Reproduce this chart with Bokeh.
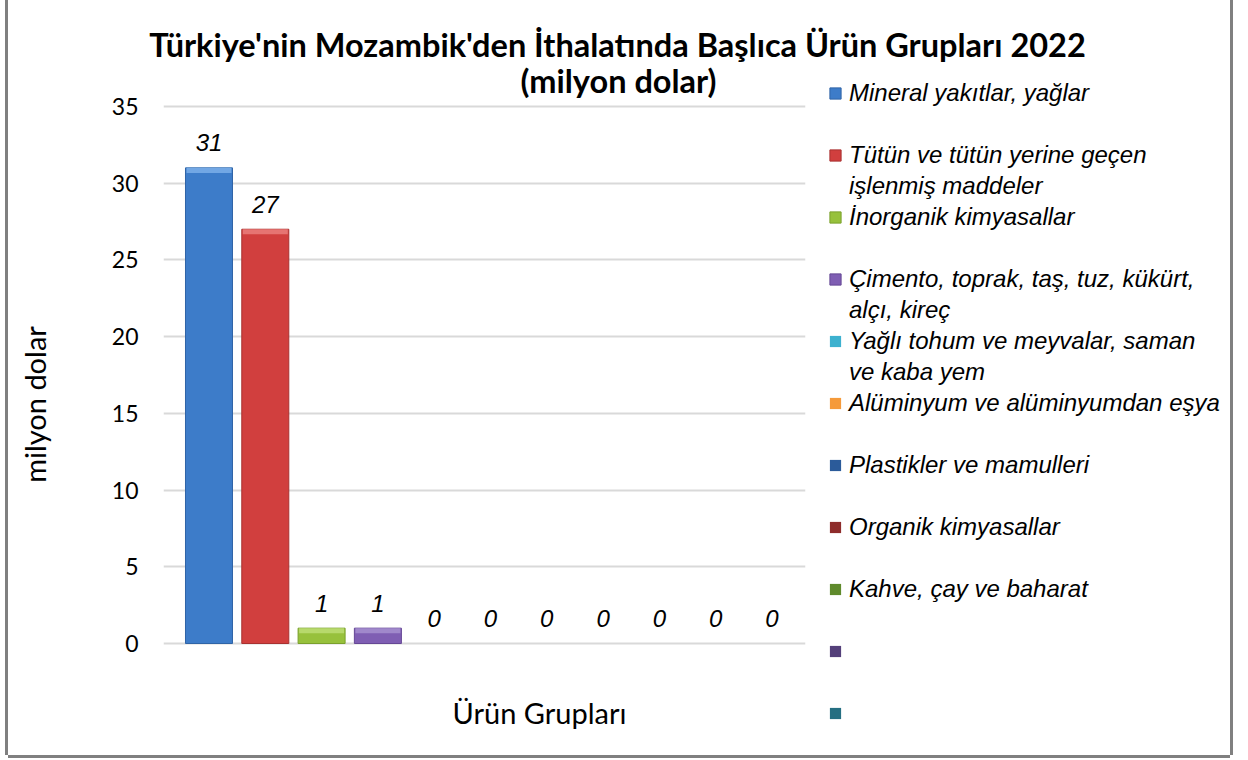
from bokeh.plotting import figure
from bokeh.layouts import column, row
from bokeh.models import (ColumnDataSource, LabelSet, Label, Legend, LegendItem,
                          FixedTicker, Range1d)
from bokeh.core.properties import value
from bokeh.embed import file_html
from bokeh.resources import INLINE

# ---- data ----
categories = [
    "Mineral yakıtlar, yağlar",
    "Tütün ve tütün yerine geçen işlenmiş maddeler",
    "İnorganik kimyasallar",
    "Çimento, toprak, taş, tuz, kükürt, alçı, kireç",
    "Yağlı tohum ve meyvalar, saman ve kaba yem",
    "Alüminyum ve alüminyumdan eşya",
    "Plastikler ve mamulleri",
    "Organik kimyasallar",
    "Kahve, çay ve baharat",
    "",
    "",
]
values = [31, 27, 1, 1, 0, 0, 0, 0, 0, 0, 0]
legend_lines = [
    ["Mineral yakıtlar, yağlar"],
    ["Tütün ve tütün yerine geçen", "işlenmiş maddeler"],
    ["İnorganik kimyasallar"],
    ["Çimento, toprak, taş, tuz, kükürt,", "alçı, kireç"],
    ["Yağlı tohum ve meyvalar, saman", "ve kaba yem"],
    ["Alüminyum ve alüminyumdan eşya"],
    ["Plastikler ve mamulleri"],
    ["Organik kimyasallar"],
    ["Kahve, çay ve baharat"],
    [" "],
    [" "],
]
y_ticks = [0, 5, 10, 15, 20, 25, 30, 35]
title_line1 = "Türkiye'nin Mozambik'den İthalatında Başlıca Ürün Grupları 2022"
title_line2 = "(milyon dolar)"
y_label = "milyon dolar"
x_label = "Ürün Grupları"

# ---- style ----
colors = ["#3D7CC9", "#D13F3E", "#97C13C", "#7F5EB3", "#3DB1CF", "#F59A3A",
          "#2B5B9A", "#8E2C2B", "#5F8A2C", "#54407A", "#256F82"]
caps = ["#72A7E4", "#E67472", "#B7D96C", "#A088CB", "#7ACDE3", "#F9BB78",
        "#5A86C0", "#B45A59", "#88AE58", "#7E6AA3", "#4F97AA"]
edge = ["#2F64A6", "#A83130", "#7AA02C", "#654795", "#2E93AD", "#D27C22",
        "#1F4577", "#6E1F1E", "#486C1F", "#3E2E5C", "#1A5563"]
FONT = "Lato"
IFONT = "Liberation Sans"
BORDER = "#808080"
CAP = 0.33  # bevel highlight depth, in value units

xs = list(range(len(values)))
ealpha = [1 if v > 0 else 0 for v in values]
src = ColumnDataSource(dict(x=xs, top=values, color=colors, edge=edge, ealpha=ealpha,
                            cap=caps, cap_bottom=[max(v - CAP, 0) for v in values],
                            lab=[str(v) for v in values], name=categories))

TOTAL_W, TOTAL_H = 1222, 755
TOP_H = 104          # title strip
OVERLAP = 42         # chart row slides under the title strip (transparent)
BODY_H = TOTAL_H - TOP_H + OVERLAP
MAIN_W = 810
MB_TOP, MB_BOTTOM = 16, 25   # frame margins shared by chart and legend panel

# ---- title strip ----
top = figure(width=TOTAL_W, height=TOP_H, output_backend="svg", toolbar_location=None,
             x_range=Range1d(0, TOTAL_W), y_range=Range1d(0, TOP_H), title=None)
top.xaxis.visible = False
top.yaxis.visible = False
top.xgrid.visible = False
top.ygrid.visible = False
top.outline_line_color = None
top.min_border = 0
top.background_fill_color = None
top.border_fill_color = None
top.styles = {"box-shadow": f"-3px 0 0 0 {BORDER}, 3px 0 0 0 {BORDER}"}
top.add_layout(Label(x=609, y=TOP_H - 44, text=title_line1, text_align="center",
                     text_baseline="middle", text_font=FONT, text_font_style="bold",
                     text_font_size="32.5px", text_color="black"))
top.add_layout(Label(x=610, y=TOP_H - 80, text=title_line2, text_align="center",
                     text_baseline="middle", text_font=FONT, text_font_style="bold",
                     text_font_size="32.5px", text_color="black"))

# ---- main chart ----
p = figure(width=MAIN_W, height=BODY_H, output_backend="svg", toolbar_location=None,
           x_range=Range1d(-0.808, 10.595), y_range=Range1d(-5.67, 36.825),
           min_border_left=155, min_border_right=13, min_border_top=MB_TOP,
           min_border_bottom=MB_BOTTOM, title=None)
p.styles = {"box-shadow": f"-3px 0 0 0 {BORDER}, 0 3px 0 0 {BORDER}"}
p.outline_line_color = None
p.background_fill_color = None
p.border_fill_color = None

r = p.vbar(x="x", top="top", bottom=0, width=0.835, source=src,
           fill_color="color", line_color="edge", line_alpha="ealpha", line_width=1)
p.vbar(x="x", top="top", bottom="cap_bottom", width=0.80, source=src,
       fill_color="cap", line_color=None)

p.xaxis.visible = False
p.xgrid.visible = False

ya = p.yaxis[0]
ya.ticker = FixedTicker(ticks=y_ticks)
ya.axis_line_color = None
ya.major_tick_line_color = None
ya.minor_tick_line_color = None
ya.major_tick_out = 0
ya.major_tick_in = 0
ya.major_label_standoff = 25
ya.major_label_text_font = FONT
ya.major_label_text_font_size = "23px"
ya.major_label_text_color = "black"
ya.axis_label = y_label
ya.axis_label_text_font = FONT
ya.axis_label_text_font_style = "normal"
ya.axis_label_text_font_size = "29px"
ya.axis_label_text_color = "black"
ya.axis_label_standoff = 57
p.ygrid.ticker = FixedTicker(ticks=y_ticks)
p.ygrid.grid_line_color = "#D9D9D9"
p.ygrid.grid_line_width = 2

p.add_layout(LabelSet(x="x", y="top", text="lab", source=src, y_offset=25,
                      text_align="center", text_baseline="middle",
                      text_font=value(IFONT), text_font_style="italic",
                      text_font_size="24px", text_color="black"))

p.add_layout(Label(x=376, y=18, x_units="screen", y_units="screen", text=x_label,
                   text_align="center", text_baseline="middle", text_font=FONT,
                   text_font_size="29px", text_color="black"))

# ---- legend panel ----
lg = figure(width=TOTAL_W - MAIN_W, height=BODY_H, output_backend="svg",
            toolbar_location=None, x_range=Range1d(0, 1), y_range=Range1d(0, 1),
            min_border_left=0, min_border_right=0, min_border_top=MB_TOP,
            min_border_bottom=MB_BOTTOM, title=None)
lg.xaxis.visible = False
lg.yaxis.visible = False
lg.xgrid.visible = False
lg.ygrid.visible = False
lg.outline_line_color = None
lg.background_fill_color = None
lg.border_fill_color = None
lg.styles = {"box-shadow": f"3px 0 0 0 {BORDER}, 0 3px 0 0 {BORDER}"}
lsrc = ColumnDataSource(dict(x=[float("nan")] * len(values), top=values,
                             color=colors, edge=edge, ealpha=ealpha))
lr = lg.vbar(x="x", top="top", bottom=0, width=0.5, source=lsrc,
             fill_color="color", line_color="edge", line_alpha="ealpha", line_width=1)

items = []
for i, lines in enumerate(legend_lines):
    items.append(LegendItem(label=lines[0], renderers=[lr], index=i))
    if i < len(legend_lines) - 1:
        items.append(LegendItem(label=lines[1] if len(lines) > 1 else " ", renderers=[]))
LEG_H = 21 * 30 + 20 * 1
frame_h = BODY_H - MB_TOP - MB_BOTTOM
legend = Legend(items=items, location=(10, frame_h - LEG_H), orientation="vertical",
                glyph_width=14, glyph_height=14, label_standoff=7,
                label_height=30, spacing=1, padding=0, margin=0,
                border_line_color=None, background_fill_alpha=0,
                label_text_font=IFONT, label_text_font_style="italic",
                label_text_font_size="24px", label_text_color="black")
lg.add_layout(legend, "center")

layout = column(top, row(p, lg, spacing=0, styles={"margin-top": f"-{OVERLAP}px"}),
                spacing=0, styles={"margin-left": "8px"})

open("out.html", "w").write(file_html(layout, INLINE))
